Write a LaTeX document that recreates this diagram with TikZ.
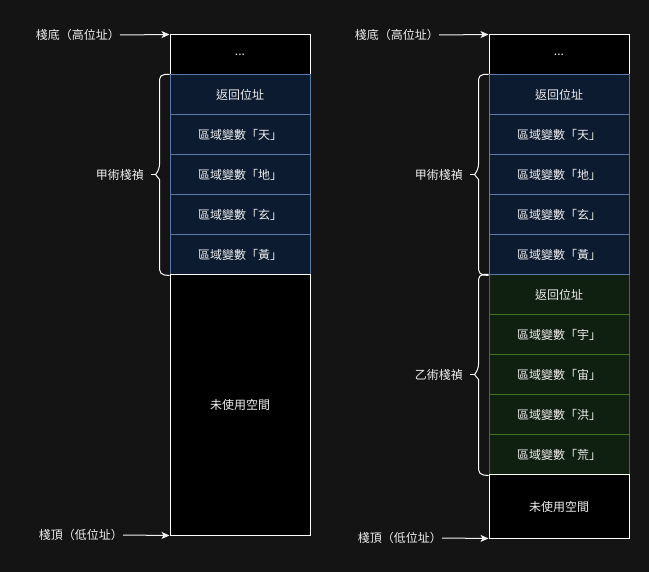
\documentclass[tikz,border=0pt]{standalone}
\usepackage{fontspec}
\setmainfont{Noto Sans CJK TC}
\usetikzlibrary{arrows.meta}
\definecolor{bgDark}{RGB}{20,20,20}
\definecolor{frBlueFill}{RGB}{12,27,48}
\definecolor{frBlueLine}{RGB}{90,122,168}
\definecolor{frGreenFill}{RGB}{16,32,16}
\definecolor{frGreenLine}{RGB}{65,115,35}
\definecolor{txtLight}{RGB}{240,240,240}

\begin{document}
\begin{tikzpicture}[
  x=1pt, y=-1pt,
  cell/.style={
    draw=white, fill=black, line width=1pt,
    minimum width=140pt, minimum height=40pt, inner sep=0pt,
    text=txtLight, font=\fontsize{12}{14}\selectfont
  },
  cellA/.style={cell, draw=frBlueLine, fill=frBlueFill},
  cellB/.style={cell, draw=frGreenLine, fill=frGreenFill},
  tag/.style={inner sep=0pt, text=txtLight, font=\fontsize{12}{14}\selectfont},
  ptr/.style={draw=txtLight, line width=1pt, -{Stealth[length=8pt, width=7pt, inset=2pt]}},
  brc/.style={draw=white, line width=1pt, line join=round}
]
\useasboundingbox[fill=bgDark] (0,0) rectangle (649,572);

% left stack
\node[cell] (ld) at (240,55) {...};
\node[cellA] (la1) at (240,95)  {返回位址};
\node[cellA] (la2) at (240,135) {區域變數「天」};
\node[cellA] (la3) at (240,175) {區域變數「地」};
\node[cellA] (la4) at (240,215) {區域變數「玄」};
\node[cellA] (la5) at (240,255) {區域變數「黃」};
\node[cell, minimum height=260pt] (lu) at (240,405) {未使用空間};

\node[tag, anchor=east] (lbase) at (120,35)  {棧底（高位址）};
\node[tag, anchor=east] (ltop)  at (123,535) {棧頂（低位址）};
\draw[ptr] (lbase.east) -- (ld.north west);
\draw[ptr] (ltop.east) -- (lu.south west);

% brace of frame A
\draw[brc] (la1.north west) [rounded corners=5pt] -- ++(-10,0) -- ++(0,95)
  [sharp corners] -- ++(-4,5) coordinate (lta) -- ++(4,5)
  [rounded corners=5pt] -- ++(0,95) -- (la5.south west);
\draw[brc] (lta) -- ++(-5,0);
\node[tag, anchor=east] (lfa) at (144,175) {甲術棧禎};

% right stack
\node[cell] (rd) at (559,55) {...};
\node[cellB] (rb1) at (559,295) {返回位址};
\node[cellB] (rb2) at (559,335) {區域變數「宇」};
\node[cellB] (rb3) at (559,375) {區域變數「宙」};
\node[cellB] (rb4) at (559,415) {區域變數「洪」};
\node[cellB] (rb5) at (559,455) {區域變數「荒」};
\node[cellA] (ra1) at (559,95)  {返回位址};
\node[cellA] (ra2) at (559,135) {區域變數「天」};
\node[cellA] (ra3) at (559,175) {區域變數「地」};
\node[cellA] (ra4) at (559,215) {區域變數「玄」};
\node[cellA] (ra5) at (559,255) {區域變數「黃」};
\node[cell, minimum height=63pt] (ru) at (559,506.5) {未使用空間};

\node[tag, anchor=east] (rbase) at (439,35)  {棧底（高位址）};
\node[tag, anchor=east] (rtop)  at (442,538) {棧頂（低位址）};
\draw[ptr] (rbase.east) -- (rd.north west);
\draw[ptr] (rtop.east) -- (ru.south west);

% braces of frames A and B
\draw[brc] (ra1.north west) [rounded corners=5pt] -- ++(-10,0) -- ++(0,95)
  [sharp corners] -- ++(-4,5) coordinate (rta) -- ++(4,5)
  [rounded corners=5pt] -- ++(0,95) -- (ra5.south west);
\draw[brc] (rta) -- ++(-5,0);
\draw[brc] (rb1.north west) [rounded corners=5pt] -- ++(-10,0) -- ++(0,95)
  [sharp corners] -- ++(-4,5) coordinate (rtb) -- ++(4,5)
  [rounded corners=5pt] -- ++(0,95) -- (rb5.south west);
\draw[brc] (rtb) -- ++(-5,0);
\node[tag, anchor=east] (rfa) at (463,175) {甲術棧禎};
\node[tag, anchor=east] (rfb) at (463,375) {乙術棧禎};
\end{tikzpicture}
\end{document}
